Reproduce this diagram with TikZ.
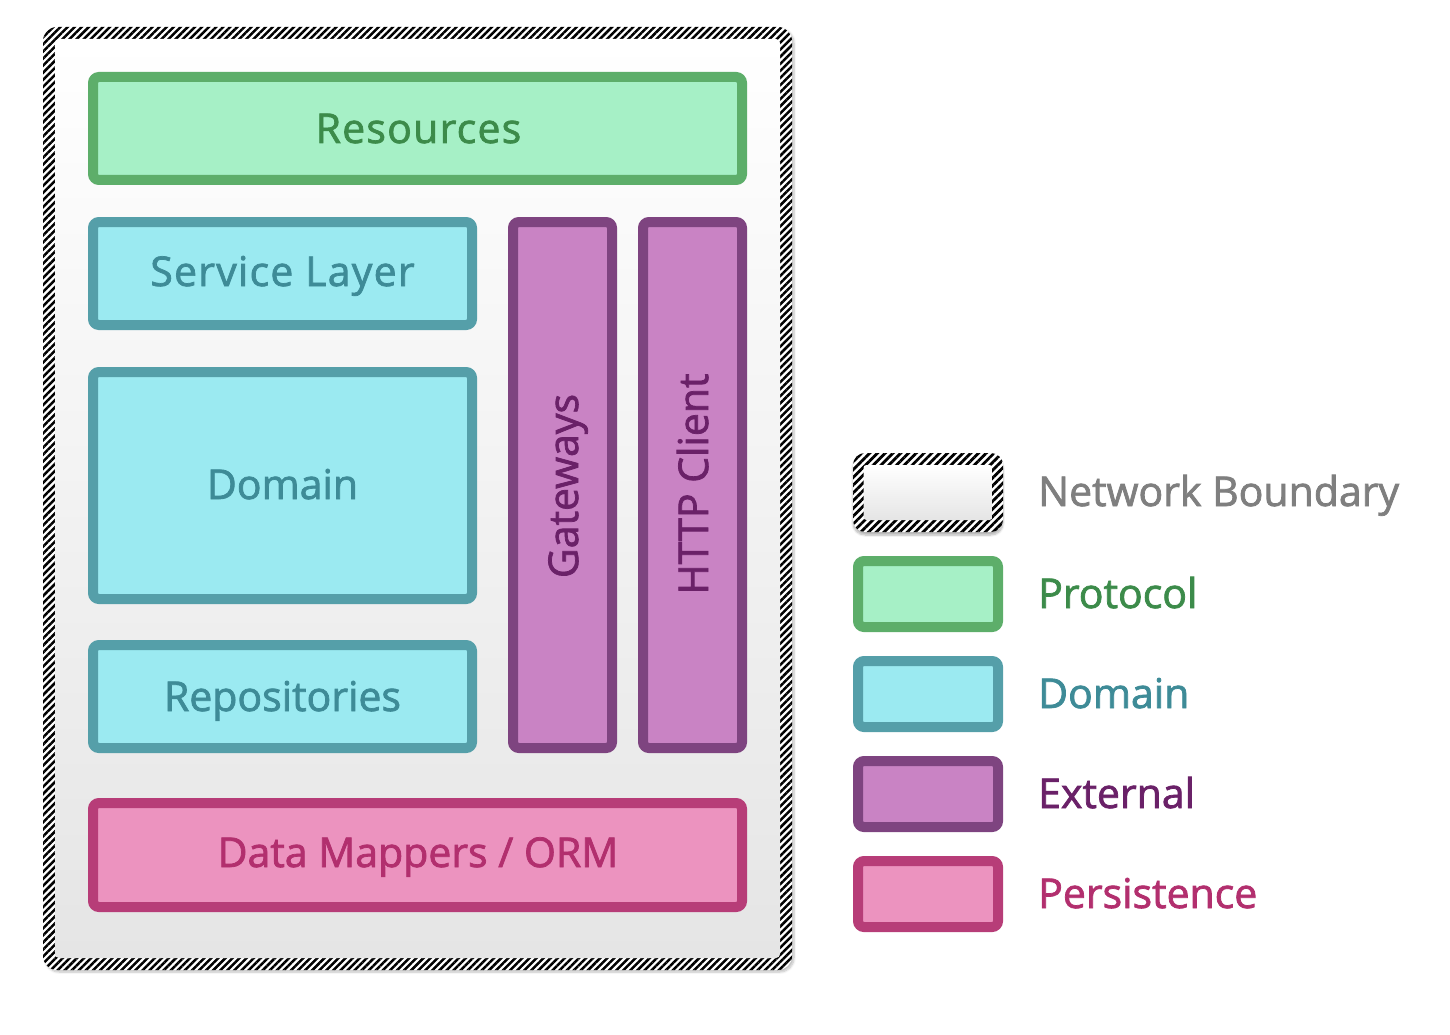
\documentclass[tikz,border=0pt]{standalone}
\usepackage{fontspec}
\setmainfont{Open Sans}
\newfontfamily\labelfont{Open Sans}[FakeBold=1.8]
\usetikzlibrary{patterns.meta,shadows.blur}
\definecolor{gStroke}{HTML}{5DAE6A}
\definecolor{gFill}{HTML}{A6F0C6}
\definecolor{gText}{HTML}{3C8B4A}
\definecolor{tStroke}{HTML}{559FA9}
\definecolor{tFill}{HTML}{9BEAF1}
\definecolor{tText}{HTML}{3E8B97}
\definecolor{pStroke}{HTML}{7E4480}
\definecolor{pFill}{HTML}{C983C4}
\definecolor{pText}{HTML}{6A2168}
\definecolor{kStroke}{HTML}{B73D78}
\definecolor{kFill}{HTML}{EC93BF}
\definecolor{kText}{HTML}{B22F6E}
\definecolor{grayText}{HTML}{7F7F7F}
\definecolor{innerBottom}{HTML}{E5E5E5}
\tikzset{
  layer/.style={line width=10pt, rounded corners=6pt, inner sep=0pt},
  protocolbox/.style={layer, draw=gStroke, fill=gFill},
  domainbox/.style={layer, draw=tStroke, fill=tFill},
  externalbox/.style={layer, draw=pStroke, fill=pFill},
  persistbox/.style={layer, draw=kStroke, fill=kFill},
  boxtext/.style={font=\labelfont\fontsize{41}{49}\selectfont, anchor=base, inner sep=0pt},
  widetext/.style={font=\labelfont\fontsize{41}{49}\selectfont\addfontfeatures{LetterSpace=3}},
  legendtext/.style={font=\labelfont\fontsize{41}{49}\selectfont, anchor=base west, inner sep=0pt},
  lshadow/.style={blur shadow={shadow xshift=0pt, shadow yshift=-3pt, shadow opacity=30, shadow blur steps=6, shadow blur extra rounding=2pt}},
}
\begin{document}
\begin{tikzpicture}[x=1pt,y=-1pt]
\useasboundingbox (0,0) rectangle (1450,1035);
% network boundary
\node (net) [minimum width=749pt, minimum height=943pt, inner sep=0pt, rounded corners=14pt, fill=white,
  blur shadow={shadow xshift=2pt, shadow yshift=-2pt, shadow opacity=25, shadow blur steps=6},
  postaction={pattern={Lines[angle=45,distance=5pt,line width=2.5pt]}, pattern color=black}] at (417.5,498.5) {};
\node (netin) [minimum width=725pt, minimum height=919pt, inner sep=0pt, rounded corners=4pt, top color=white, bottom color=innerBottom] at (417.5,498.5) {};
% boxes
\node (res) [protocolbox, minimum width=649pt, minimum height=103pt] at (417.5,128.5) {};
\node (svc) [domainbox, minimum width=379pt, minimum height=103pt] at (282.5,273.5) {};
\node (dom) [domainbox, minimum width=379pt, minimum height=227pt] at (282.5,485.5) {};
\node (rep) [domainbox, minimum width=379pt, minimum height=103pt] at (282.5,696.5) {};
\node (gw) [externalbox, minimum width=99pt, minimum height=526pt] at (562.5,485) {};
\node (http) [externalbox, minimum width=99pt, minimum height=526pt] at (692.5,485) {};
\node (dm) [persistbox, minimum width=649pt, minimum height=104pt] at (417.5,855) {};
% box labels
\node (resl) [boxtext, widetext, text=gText] at (418.5,143) {Resources};
\node (svcl) [boxtext, widetext, text=tText] at (282.5,286) {Service Layer};
\node (doml) [boxtext, text=tText] at (282.5,499) {Domain};
\node (repl) [boxtext, text=tText] at (282.5,711) {Repositories};
\node (gwl) [boxtext, text=pText, rotate=90] at (578,486) {Gateways};
\node (httpl) [boxtext, text=pText, rotate=90] at (708,484) {HTTP Client};
\node (dml) [boxtext, text=kText] at (418,867) {Data Mappers / ORM};
% legend
\node (lnet) [minimum width=150pt, minimum height=79pt, inner sep=0pt, rounded corners=12pt, fill=white, lshadow,
  postaction={pattern={Lines[angle=45,distance=5.5pt,line width=2.8pt]}, pattern color=black}] at (928,492.5) {};
\node (lnetin) [minimum width=129pt, minimum height=55pt, inner sep=0pt, rounded corners=3pt, top color=white, bottom color=innerBottom] at (928,492.5) {};
\node (lpro) [protocolbox, lshadow, minimum width=140pt, minimum height=66pt] at (928,594) {};
\node (ldom) [domainbox, lshadow, minimum width=140pt, minimum height=66pt] at (928,694) {};
\node (lext) [externalbox, lshadow, minimum width=140pt, minimum height=66pt] at (928,794) {};
\node (lper) [persistbox, lshadow, minimum width=140pt, minimum height=66pt] at (928,894) {};
\node (tnet) [legendtext, text=grayText] at (1038,506) {Network Boundary};
\node (tpro) [legendtext, text=gText] at (1038,608) {Protocol};
\node (tdom) [legendtext, text=tText] at (1038,708) {Domain};
\node (text) [legendtext, text=pText] at (1038,808) {External};
\node (tper) [legendtext, text=kText] at (1038,908) {Persistence};
\end{tikzpicture}
\end{document}
